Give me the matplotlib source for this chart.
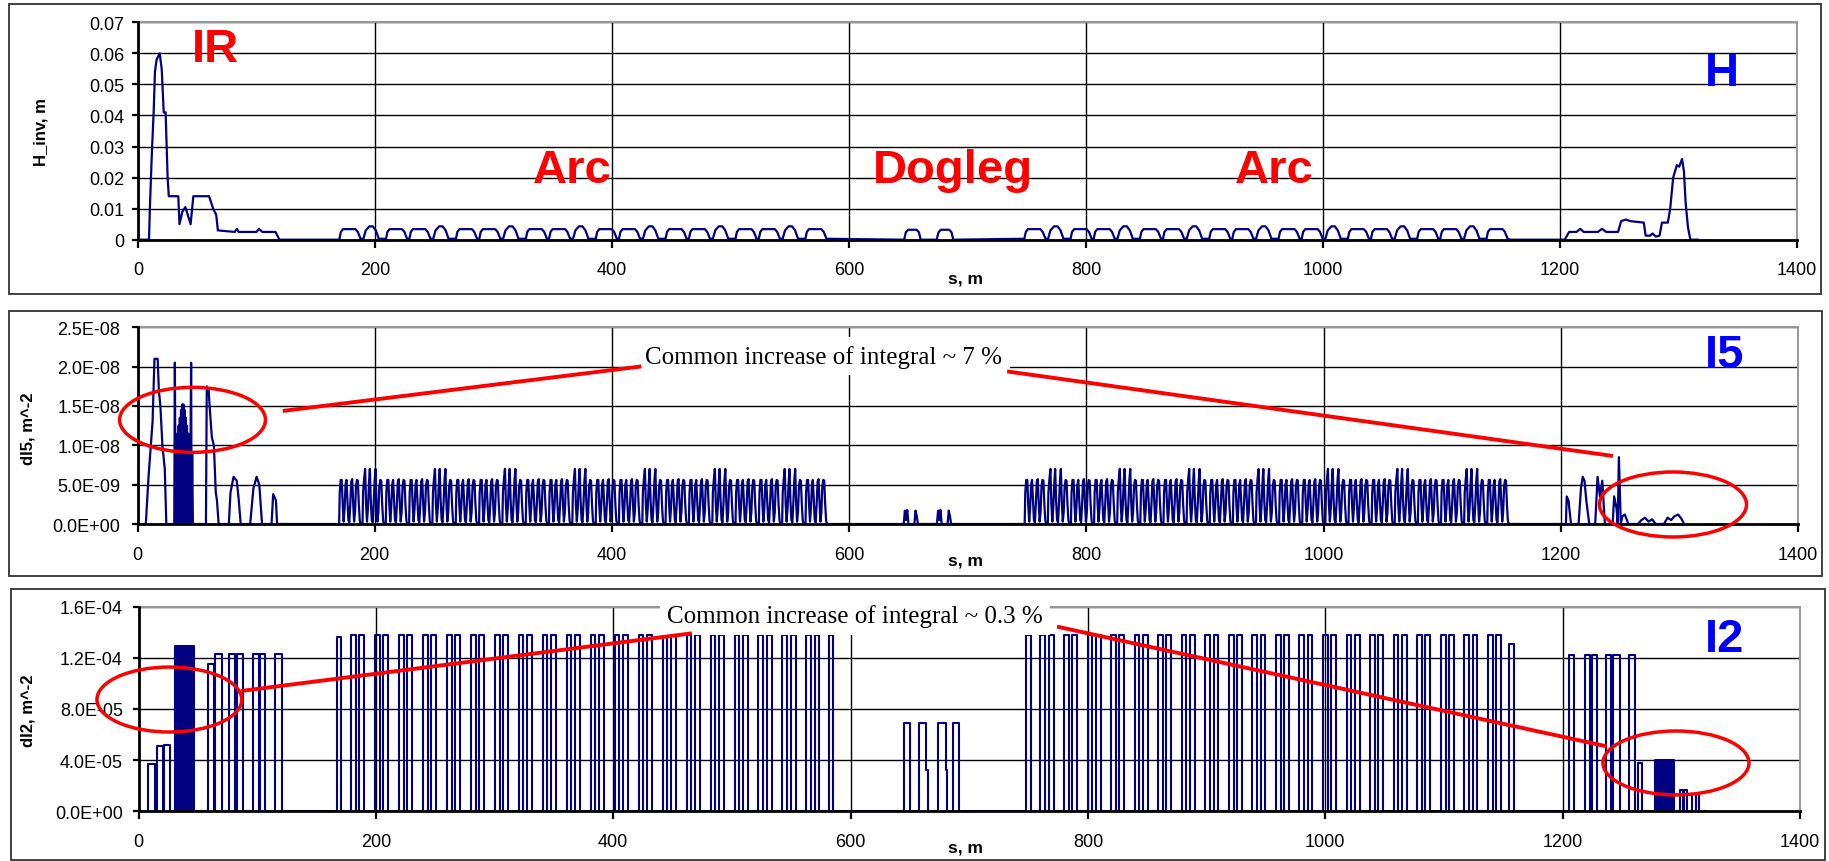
import numpy as np
import matplotlib.pyplot as plt
from matplotlib.patches import Ellipse, Rectangle
from matplotlib.ticker import FuncFormatter

plt.rcParams['font.family'] = ['Liberation Sans', 'DejaVu Sans']

# ---------------- data ----------------
s_ticks = [0, 200, 400, 600, 800, 1000, 1200, 1400]

# H_inv near the IR (s in m, value in m)
h_ir_s = [1, 9.3, 10, 11.7, 13.3, 14.3, 15.7, 18.3, 20, 21.7, 23.3, 25, 26, 34, 35, 37.4, 40,
          44.4, 46.7, 60, 63.4, 66, 67.4, 81.7, 83.4, 85, 100, 102, 105, 116, 119.4, 169]
h_ir_v = [0, 0, 0.010, 0.028, 0.042, 0.054, 0.058, 0.060, 0.055, 0.041, 0.041, 0.020, 0.014,
          0.014, 0.005, 0.009, 0.0105, 0.005, 0.014, 0.014, 0.010, 0.008, 0.003, 0.0025, 0.0035,
          0.0025, 0.0025, 0.0035, 0.0025, 0.0025, 0, 0]

# arc cells (start of each hump), N = flat hump, P = pointed hump
arc1_cells = [170.0, 189.7, 209.3, 229.0, 248.6, 268.3, 288.0, 307.6, 327.3, 346.9, 366.6,
              386.3, 405.9, 425.6, 445.2, 464.9, 484.6, 504.2, 523.9, 543.5, 563.2]
arc2_cells = [748.0, 767.5, 787.0, 806.5, 826.0, 845.5, 865.0, 884.5, 904.0, 923.5, 943.0,
              962.5, 982.0, 1001.5, 1021.0, 1040.5, 1060.0, 1079.5, 1099.0, 1118.5, 1138.0]
cell_kind = "NPNNPNNPNNPNNPNNPNNPN"

h_n_ds = [0, 1.2, 3.0, 13.5, 15.5, 17.8]
h_n_v = [0.0003, 0.0025, 0.0034, 0.0034, 0.0025, 0.0003]
h_p_ds = [0.5, 2.5, 5.5, 8.5, 11.0, 13.5]
h_p_v = [0.0003, 0.0030, 0.0043, 0.0043, 0.0030, 0.0003]

h_dog_s = [646.5, 648, 650, 657, 659, 660.5, 674, 675.5, 677.5, 684.5, 686.5, 688]
h_dog_v = [0, 0.0024, 0.0032, 0.0032, 0.0024, 0, 0, 0.0024, 0.0032, 0.0032, 0.0024, 0]

h_end_s = [1158, 1204, 1207.7, 1214, 1217, 1220, 1232, 1235.4, 1239, 1249, 1251.6, 1255.6, 1259,
           1270.7, 1272.3, 1276, 1278, 1281, 1284, 1286, 1291, 1293, 1295.5, 1298.6, 1300.6,
           1303, 1304.6, 1306, 1308, 1310, 1316]
h_end_v = [0, 0, 0.0025, 0.0025, 0.0035, 0.0025, 0.0025, 0.0035, 0.0025, 0.0025, 0.006, 0.0065,
           0.006, 0.0055, 0.0013, 0.0013, 0.002, 0.001, 0.0013, 0.0055, 0.0055, 0.010, 0.020,
           0.024, 0.0235, 0.026, 0.022, 0.012, 0.004, 0, 0]

# dI5 (units of 1e-9 m^-2)
i5_ir_s = [1, 7, 9.3, 12.7, 14.3, 17, 18, 19.3, 21, 23, 24.3,
           31, 31.5, 32.2, 32.7, 33.2, 33.7, 34.2, 34.7, 35.2, 35.7, 36.2, 36.7, 37.2, 37.7, 38.2,
           38.7, 39.2, 39.7, 40.2, 40.7, 41.2, 41.7, 42.2, 42.7, 43.2, 43.7, 44.2, 44.7, 45.2,
           45.6, 46.1, 46.7,
           57.7, 58.4, 60, 61, 62.7, 64.4, 66, 67, 68.4,
           77, 78.4, 81, 83.7, 85.4, 87,
           95, 97.7, 100.4, 102.7, 105,
           113, 114.4, 116.7, 117.7, 167]
i5_ir_v = [0, 0, 6, 13, 21, 21, 17, 15, 10, 7, 0,
           0, 20.5, 0, 10, 0, 11.5, 0, 12.5, 0, 13.5, 0, 14.5, 0, 15.2, 0, 15.2, 0, 14.5, 0, 13.5,
           0, 12.5, 0, 11.5, 0, 10.5, 0, 9.5, 20.5, 0, 9, 0,
           0, 17.5, 17, 14.5, 11, 10, 4, 3, 0,
           0, 4, 6, 5.5, 3, 0,
           0, 4.5, 6, 5, 0,
           0, 3.8, 3, 0, 0]

i5_n_ds = [0, 0.5, 1.3, 2.2, 3.0, 3.8, 4.6, 5.4, 6.2, 7.0, 7.8, 8.6, 9.4, 10.2, 11.0, 11.8,
           12.6, 13.4, 14.2, 15.0, 15.8, 16.6, 17.4, 18.2]
i5_n_v = [0, 4.0, 5.6, 5.6, 2.5, 0.3, 2.0, 5.0, 5.6, 3.0, 0.5, 0.2, 2.5, 5.4, 5.7, 2.8, 0.3,
          1.5, 4.8, 5.6, 5.5, 2.5, 0.4, 0]
i5_p_ds = [0, 0.5, 1.3, 2.2, 3.0, 3.8, 4.6, 5.4, 6.2, 7.0, 7.8, 8.6, 9.4, 10.2, 11.0, 11.8,
           12.6, 13.4, 14.2, 15.0, 15.8, 16.6, 17.4, 18.2]
i5_p_v = [0, 4.0, 5.6, 7.0, 2.5, 0.3, 2.0, 5.0, 7.0, 3.0, 0.5, 0.2, 2.5, 5.4, 7.0, 2.8, 0.3,
          1.5, 4.8, 5.6, 5.5, 2.5, 0.4, 0]

i5_dog_s = [646, 647, 648, 649, 650, 655, 656, 657, 658, 674, 675, 676, 677, 678, 683, 684, 685, 686]
i5_dog_v = [0, 1.7, 0.5, 1.8, 0, 0, 1.7, 1.0, 0, 0, 1.7, 0.5, 1.8, 0, 0, 1.7, 1.0, 0]

i5_end_s = [1158, 1204.3, 1205, 1206.5, 1208.6, 1215, 1217, 1218.5, 1220, 1221.5, 1224, 1229,
            1231, 1233, 1235, 1237.2, 1243.7, 1245, 1247, 1248, 1249, 1250.6, 1252, 1254,
            1257, 1265, 1268, 1271, 1274, 1277, 1280, 1287, 1290, 1293, 1296, 1299, 1302, 1304]
i5_end_v = [0, 0, 3.5, 3.0, 0, 0, 4.5, 6.0, 5.5, 3.0, 0, 0, 6.0, 3.5, 5.5, 0, 0, 3.5, 2.0, 0,
            8.5, 0, 1.0, 1.2, 0, 0, 0.5, 0.8, 0.3, 0.6, 0, 0, 0.8, 0.5, 1.0, 1.2, 0.6, 0]

# dI2 pulses: start, end, height (m^-2)
i2_ir_a = [8.3, 15.9, 21.9, 58.6, 64.6, 76.6, 82.6, 96.7, 102.0, 115.0]
i2_ir_b = [13.7, 20.4, 26.4, 63.6, 70.0, 81.6, 88.0, 101.4, 107.0, 121.0]
i2_ir_h = [3.7e-5, 5.1e-5, 5.2e-5, 1.15e-4, 1.23e-4, 1.23e-4, 1.23e-4, 1.23e-4, 1.23e-4, 1.23e-4]
i2_block1 = [30.5, 32.0, 33.5, 35.0, 36.5, 38.0, 39.5, 41.0, 42.5, 44.0, 45.5]
i2_block1_h = 1.29e-4

arc1_dip = [167.0, 179.0, 186.0, 199.2, 206.2, 219.4, 226.4, 239.6, 246.6, 259.8, 266.8,
            280.0, 287.0, 300.2, 307.2, 320.4, 327.4, 340.6, 347.6, 360.8, 367.8, 381.0,
            388.0, 401.2, 408.2, 421.4, 428.4, 441.6, 448.6, 461.8, 468.8, 482.0, 489.0,
            502.2, 509.2, 522.4, 529.4, 542.6, 549.6, 562.8, 569.8, 581.5]
arc2_dip = [747.8, 760.0, 767.0, 779.8, 786.8, 799.7, 806.7, 819.5, 826.5, 839.4, 846.4,
            859.2, 866.2, 879.0, 886.0, 898.9, 905.9, 918.7, 925.7, 938.6, 945.6, 958.4,
            965.4, 978.2, 985.2, 998.1, 1005.1, 1017.9, 1024.9, 1037.8, 1044.8, 1057.6,
            1064.6, 1077.4, 1084.4, 1097.3, 1104.3, 1117.1, 1124.1, 1137.0, 1144.0, 1155.0]
arc_dip_len = 4.0
arc_dip_h = 1.38e-4

i2_dog_s = [585.5, 645.3, 645.3, 649.9, 649.9, 657.4, 657.4, 663.8, 663.8, 665, 665,
            673.4, 673.4, 680, 680, 681, 681, 686, 686, 691.5, 691.5, 747]
i2_dog_v = [0, 0, 6.9e-5, 6.9e-5, 0, 0, 6.9e-5, 6.9e-5, 3.25e-5, 3.25e-5, 0,
            0, 6.9e-5, 6.9e-5, 3.25e-5, 3.25e-5, 0, 0, 6.9e-5, 6.9e-5, 0, 0]

i2_end_a = [1205, 1219, 1224.6, 1236.3, 1242.7, 1256, 1263.8, 1298.6, 1302, 1309, 1312.5]
i2_end_b = [1209.5, 1223, 1229, 1240.8, 1248, 1260.6, 1266.8, 1301, 1304.6, 1312, 1315]
i2_end_h = [1.22e-4, 1.22e-4, 1.22e-4, 1.22e-4, 1.22e-4, 1.22e-4, 3.8e-5, 1.65e-5, 1.65e-5,
            1.35e-5, 1.35e-5]
i2_block2 = [1277.8, 1279.3, 1280.8, 1282.3, 1283.8, 1285.3, 1286.8, 1288.3, 1289.8, 1291.3, 1292.8]
i2_block2_h = 4.0e-5


# ---------------- helpers ----------------
def cells(starts, kinds, ds_n, v_n, ds_p, v_p):
    xs, ys = [], []
    for c, k in zip(starts, kinds):
        ds, vs = (ds_p, v_p) if k == 'P' else (ds_n, v_n)
        xs += [c + d for d in ds]
        ys += list(vs)
    return xs, ys


def pulses(a, b, h):
    xs, ys = [], []
    for x0, x1, hh in zip(a, b, h):
        xs += [x0, x0, x1, x1]
        ys += [0, hh, hh, 0]
    return xs, ys


# build H
a1x, a1y = cells(arc1_cells, cell_kind, h_n_ds, h_n_v, h_p_ds, h_p_v)
a2x, a2y = cells(arc2_cells, cell_kind, h_n_ds, h_n_v, h_p_ds, h_p_v)
H_s = h_ir_s + a1x + h_dog_s + a2x + h_end_s
H_v = h_ir_v + a1y + h_dog_v + a2y + h_end_v

# build I5
b1x, b1y = cells(arc1_cells, cell_kind, i5_n_ds, i5_n_v, i5_p_ds, i5_p_v)
b2x, b2y = cells(arc2_cells, cell_kind, i5_n_ds, i5_n_v, i5_p_ds, i5_p_v)
I5_s = i5_ir_s + b1x + i5_dog_s + b2x + i5_end_s
I5_v = np.array(i5_ir_v + b1y + i5_dog_v + b2y + i5_end_v) * 1e-9

# build I2
p1x, p1y = pulses(i2_ir_a[:3], i2_ir_b[:3], i2_ir_h[:3])
bkx, bky = pulses(i2_block1, [x + 1.0 for x in i2_block1], [i2_block1_h] * len(i2_block1))
p2x, p2y = pulses(i2_ir_a[3:], i2_ir_b[3:], i2_ir_h[3:])
arc_h1 = [arc_dip_h] * len(arc1_dip)
arc_h1[0] = 1.36e-4
arc_h2 = [arc_dip_h] * len(arc2_dip)
arc_h2[-1] = 1.31e-4
d1x, d1y = pulses(arc1_dip, [x + arc_dip_len for x in arc1_dip], arc_h1)
d2x, d2y = pulses(arc2_dip, [x + arc_dip_len for x in arc2_dip], arc_h2)
e1x, e1y = pulses(i2_end_a[:7], i2_end_b[:7], i2_end_h[:7])
bk2x, bk2y = pulses(i2_block2, [x + 1.0 for x in i2_block2], [i2_block2_h] * len(i2_block2))
e2x, e2y = pulses(i2_end_a[7:], i2_end_b[7:], i2_end_h[7:])
I2_s = [1] + p1x + bkx + p2x + d1x + i2_dog_s + d2x + e1x + bk2x + e2x + [1320]
I2_v = [0] + p1y + bky + p2y + d1y + i2_dog_v + d2y + e1y + bk2y + e2y + [0]

# ---------------- figure ----------------
W, Hpx = 1829, 862
fig = plt.figure(figsize=(W / 100, Hpx / 100), dpi=100)


def fbox(l, t, r, b):
    return [l / W, 1 - b / Hpx, (r - l) / W, (b - t) / Hpx]


# chart area frames
for l, t, r, b in [(8.7, 5, 1821, 295), (8.7, 311.7, 1822, 576.7), (11, 590, 1825, 861)]:
    fig.add_artist(Rectangle((l / W, 1 - b / Hpx), (r - l) / W, (b - t) / Hpx,
                             transform=fig.transFigure, fill=False, ec='#333333', lw=1.3))

ax1 = fig.add_axes(fbox(138, 23.3, 1797, 240.7))
ax2 = fig.add_axes(fbox(137.5, 328.3, 1798, 525))
ax3 = fig.add_axes(fbox(138.5, 607.7, 1800, 812.3))

navy = '#000080'
ax1.plot(H_s, H_v, color=navy, lw=1.6, zorder=3)
ax2.plot(I5_s, I5_v, color=navy, lw=1.6, zorder=3)
ax3.plot(I2_s, I2_v, color=navy, lw=1.5, zorder=3)


def style(ax, ymax, ystep, fmt, ypad):
    ax.set_xlim(0, 1400)
    ax.set_ylim(0, ymax)
    ax.set_xticks(s_ticks)
    ax.set_yticks(np.arange(0, ymax + ystep / 2, ystep))
    ax.yaxis.set_major_formatter(FuncFormatter(fmt))
    ax.grid(True, color='black', lw=1.0)
    ax.set_axisbelow(True)
    for side in ['top', 'right']:
        ax.spines[side].set_color('#999999')
        ax.spines[side].set_linewidth(1.4)
        ax.spines[side].set_zorder(2.6)
    for side in ['left', 'bottom']:
        ax.spines[side].set_linewidth(2.0)
        ax.spines[side].set_zorder(4)
    ax.tick_params(axis='x', direction='out', length=5.5, width=1.6, pad=10, labelsize=13)
    ax.tick_params(axis='y', direction='out', length=4.3, width=1.6, pad=ypad, labelsize=13)


style(ax1, 0.07, 0.01, lambda v, p: f"{v:g}", 5.4)
style(ax2, 2.5e-8, 5e-9, lambda v, p: f"{v:.1E}", 8)
style(ax3, 1.6e-4, 4e-5, lambda v, p: f"{v:.1E}", 7)

# axis titles
for x, y, s in [(41.5, 131.7, 'H_inv, m'), (27.7, 429, 'dI5, m^-2'), (27.7, 710.7, 'dI2, m^-2')]:
    fig.text(x / W, 1 - y / Hpx, s, rotation=90, ha='center', va='center',
             fontsize=12, fontweight='bold')
for y in [279, 561, 848.5]:
    fig.text(966 / W, 1 - y / Hpx, 's, m', ha='center', va='center', fontsize=12.5,
             fontweight='bold')

# section labels
red = '#FF0000'
blue = '#0000FF'
big = dict(fontsize=34, fontweight='bold', ha='center', va='baseline', zorder=6)
ax1.text(65, 0.0576, 'IR', color=red, **big)
ax1.text(366, 0.0185, 'Arc', color=red, **big)
ax1.text(687.5, 0.0185, 'Dogleg', color=red, **big)
ax1.text(958.7, 0.0185, 'Arc', color=red, **big)
ax1.text(1336.4, 0.0498, 'H', color=blue, **big)
ax2.text(1338.4, 1.99e-8, 'I5', color=blue, **big)
ax3.text(1336.8, 1.256e-4, 'I2', color=blue, **big)

# red callouts
note = dict(family=['Liberation Serif', 'DejaVu Serif'], fontsize=18, ha='center', va='center',
            zorder=5, bbox=dict(boxstyle='square,pad=0.3', fc='white', ec='none'))
ax2.text(578.8, 2.135e-8, 'Common increase of integral ~ 7 %', **note)
ax3.text(603.7, 1.53e-4, 'Common increase of integral ~ 0.3 %', **note)

ax2.add_patch(Ellipse((46.4, 1.324e-8), 123, 0.826e-8, fill=False, ec=red, lw=2.5,
                      clip_on=False, zorder=6))
ax2.add_patch(Ellipse((1294.6, 0.248e-8), 124, 0.826e-8, fill=False, ec=red, lw=2.5,
                      clip_on=False, zorder=6))
ax2.plot([124.1, 423.2], [1.44e-8, 2.0e-8], color=red, lw=2.8, zorder=6, clip_on=False)
ax2.plot([734.8, 1242.3], [1.936e-8, 0.868e-8], color=red, lw=2.8, zorder=6, clip_on=False)

ax3.add_patch(Ellipse((26.0, 0.874e-4), 122, 0.508e-4, fill=False, ec=red, lw=2.5,
                      clip_on=False, zorder=6))
ax3.add_patch(Ellipse((1295.5, 0.378e-4), 123, 0.5e-4, fill=False, ec=red, lw=2.5,
                      clip_on=False, zorder=6))
ax3.plot([88.2, 464.7], [0.943e-4, 1.39e-4], color=red, lw=2.8, zorder=6, clip_on=False)
ax3.plot([775.6, 1235.6], [1.441e-4, 0.511e-4], color=red, lw=2.8, zorder=6, clip_on=False)

fig.savefig('out.png', dpi=100)
